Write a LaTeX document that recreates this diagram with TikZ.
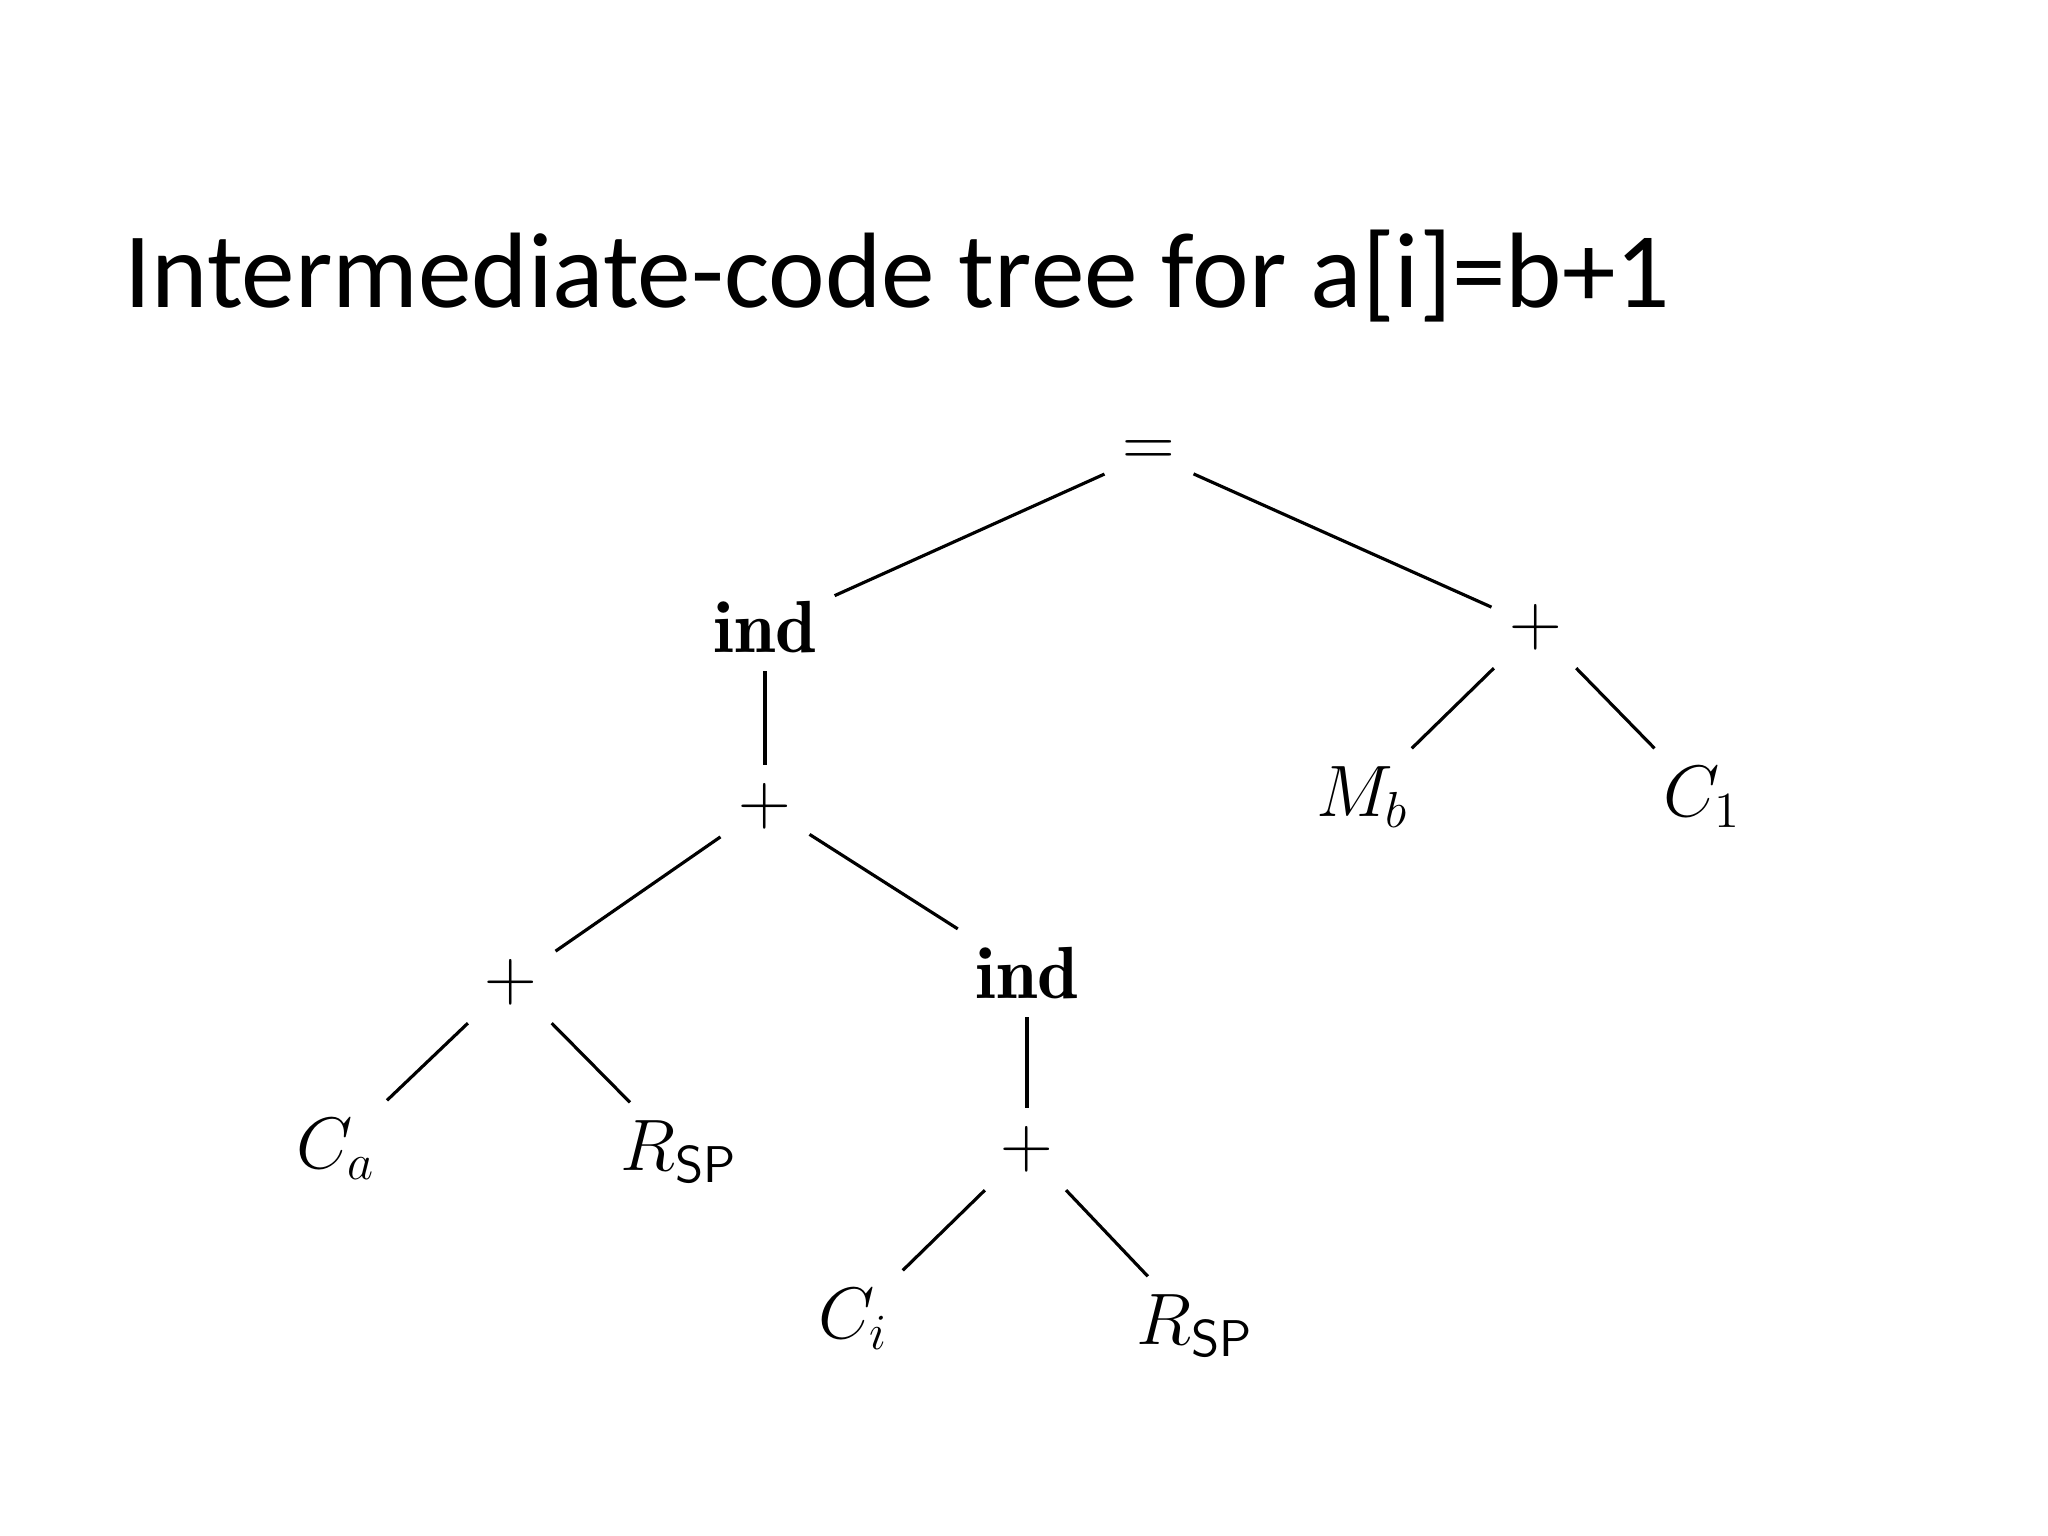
\documentclass[tikz,border=0pt]{standalone}
\usepackage{fontspec}
\newfontfamily\titlefont{Carlito}
\begin{document}
\begin{tikzpicture}[x=0.01cm,y=-0.01cm,
  t/.style={font=\fontsize{21}{25}\selectfont, inner sep=5pt},
  e/.style={line width=0.9pt}]
\useasboundingbox (0,0) rectangle (2048,1536);
\node[anchor=base west, inner sep=0, font=\titlefont\fontsize{30.5}{36}\selectfont] (title) at (124,307) {Intermediate-code tree for a[i]=b+1};
\node[t] (eq) at (1149,454) {$=$};
\node[t] (ind1) at (765,627) {$\mathbf{ind}$};
\node[t] (p1) at (1536,627) {$+$};
\node[t] (p2) at (765,806) {$+$};
\node[t] (mb) at (1362,797) {$M_b$};
\node[t] (c1) at (1702,797) {$C_1$};
\node[t] (p3) at (511,982) {$+$};
\node[t] (ind2) at (1027,973) {$\mathbf{ind}$};
\node[t] (ca) at (336,1149) {$C_a$};
\node[t] (r1) at (679,1152) {$R_{\mathsf{SP}}$};
\node[t] (p4) at (1027,1149) {$+$};
\node[t] (ci) at (853,1319) {$C_i$};
\node[t] (r2) at (1195,1326) {$R_{\mathsf{SP}}$};
\draw[e] (eq) -- (ind1);
\draw[e] (eq) -- (p1);
\draw[e] (ind1) -- (p2);
\draw[e] (p1) -- (mb);
\draw[e] (p1) -- (c1);
\draw[e] (p2) -- (p3);
\draw[e] (p2) -- (ind2);
\draw[e] (p3) -- (ca);
\draw[e] (p3) -- (r1);
\draw[e] (ind2) -- (p4);
\draw[e] (p4) -- (ci);
\draw[e] (p4) -- (r2);
\end{tikzpicture}
\end{document}
